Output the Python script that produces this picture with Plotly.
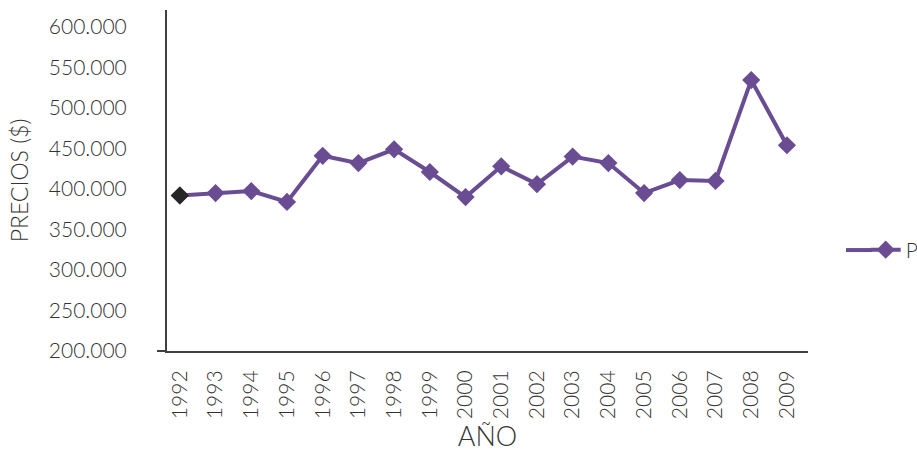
import plotly.graph_objects as go

years = [1992, 1993, 1994, 1995, 1996, 1997, 1998, 1999, 2000, 2001,
         2002, 2003, 2004, 2005, 2006, 2007, 2008, 2009]
precios = [392000, 395000, 397500, 384000, 441000, 432000, 449000, 421000, 390000,
           428000, 406000, 440000, 432000, 395000, 411000, 410000, 534500, 454000]
y_ticks = [200000, 250000, 300000, 350000, 400000, 450000, 500000, 550000, 600000]

purple = "#6A4C93"
axis_col = "#404040"
text_col = "#333333"
font_fam = "Lato, 'Open Sans', sans-serif"

fig = go.Figure()
fig.add_trace(go.Scatter(
    x=years, y=precios, mode="lines+markers", name="PRECIOS",
    line=dict(color=purple, width=4),
    marker=dict(symbol="diamond", size=14, color=purple),
))
fig.add_trace(go.Scatter(
    x=years[:1], y=precios[:1], mode="markers", showlegend=False,
    marker=dict(symbol="diamond", size=14, color="#262626"),
))

fig.update_layout(
    width=917, height=452,
    margin=dict(l=167, r=109, t=10, b=101, autoexpand=False),
    paper_bgcolor="white", plot_bgcolor="white",
    separators=",.",
    font=dict(family=font_fam, color=text_col, weight=300),
    showlegend=True,
    legend=dict(x=1.09, xanchor="left", y=0.296, yanchor="middle",
                font=dict(size=21, color=text_col, weight=300), bgcolor="rgba(0,0,0,0)"),
    xaxis=dict(
        range=[1991.64, 2009.59], tickvals=years, ticktext=[str(y) for y in years],
        tickangle=-90, tickfont=dict(size=21, color=text_col, weight=300),
        showgrid=False, zeroline=False, showline=True, linecolor=axis_col, linewidth=2,
        ticks="", ticklabelstandoff=9,
        title=dict(text="AÑO", font=dict(size=27, color=text_col, weight=300), standoff=8),
    ),
    yaxis=dict(
        range=[200000, 621000], tickvals=y_ticks, tickformat=",.0f",
        tickfont=dict(size=21, color=text_col, weight=300),
        showgrid=False, zeroline=False, showline=True, linecolor=axis_col, linewidth=2,
        ticks="", ticklabelstandoff=34,
        title=dict(text="PRECIOS ($)", font=dict(size=23, color=text_col, weight=300), standoff=14),
    ),
)
fig.add_shape(type="line", xref="paper", yref="paper", x0=-0.0156, x1=0, y0=0, y1=0,
              line=dict(color=axis_col, width=2))
# extend the legend sample line to the left, as in the reference
fig.add_shape(type="line", xref="paper", yref="paper", x0=1.0593, x1=1.10, y0=0.296, y1=0.296,
              line=dict(color=purple, width=4))

fig.write_html("out.html", config={"displayModeBar": False},
               post_script="document.body.style.margin='0';")
